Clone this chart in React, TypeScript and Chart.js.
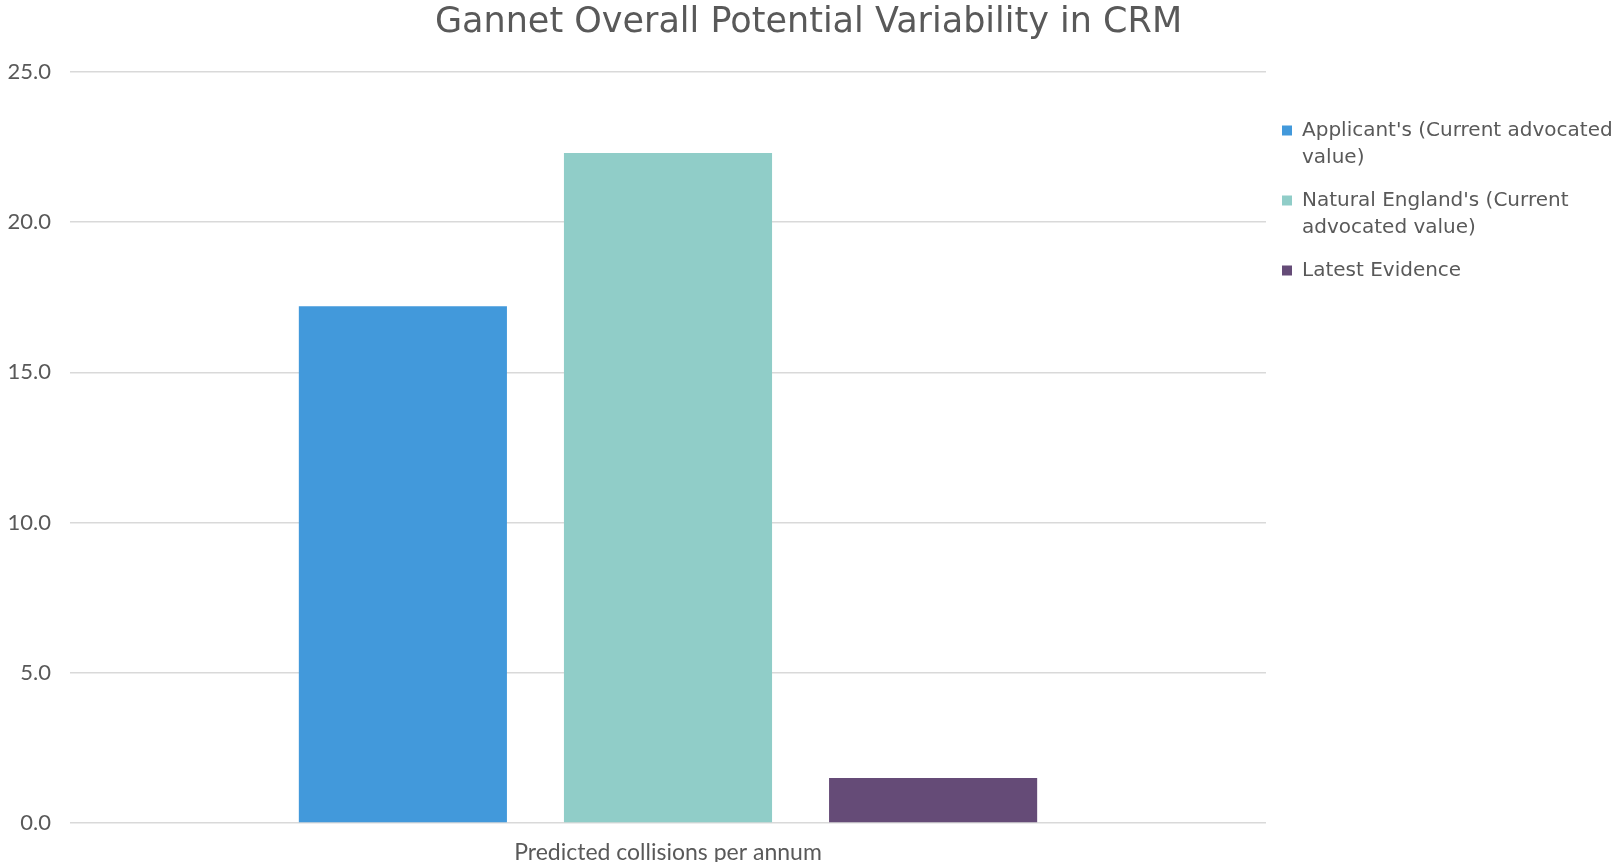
import React, { useEffect, useRef } from "react";
import { Chart, registerables } from "chart.js";

Chart.register(...registerables);

const categories = ["Predicted collisions per annum"];
const seriesNames = [
  "Applicant's (Current advocated value)",
  "Natural England's (Current advocated value)",
  "Latest Evidence",
];
const legendLines = [
  ["Applicant's (Current advocated", "value)"],
  ["Natural England's (Current", "advocated value)"],
  ["Latest Evidence"],
];
const applicantValues = [17.2];
const naturalEnglandValues = [22.3];
const latestEvidenceValues = [1.5];
const seriesColors = ["#4299DB", "#90CDC8", "#654B77"];
const titleText = "Gannet Overall Potential Variability in CRM";

const textColor = "#595959";
const tickFont = "Lato, 'Open Sans', sans-serif";
const wideFont = "'DejaVu Sans', sans-serif";

export default function App() {
  const canvasRef = useRef<HTMLCanvasElement | null>(null);

  useEffect(() => {
    const canvas = canvasRef.current;
    if (!canvas) return;
    const values = [applicantValues, naturalEnglandValues, latestEvidenceValues];
    const chart = new Chart(canvas, {
      type: "bar",
      data: {
        labels: categories,
        datasets: seriesNames.map((name, i) => ({
          label: name,
          data: values[i],
          backgroundColor: seriesColors[i],
          borderWidth: 0,
          categoryPercentage: 0.665,
          barPercentage: 0.785,
        })),
      },
      options: {
        animation: false,
        responsive: true,
        maintainAspectRatio: false,
        layout: { padding: { left: 0, right: 0, top: 0, bottom: 0 } },
        plugins: {
          title: {
            display: true,
            text: titleText,
            color: textColor,
            font: { family: wideFont, size: 35, weight: "normal", lineHeight: 1.2 },
            padding: { top: 2, bottom: 28 },
          },
          legend: {
            display: true,
            position: "right",
            align: "start",
            fullSize: false,
            maxWidth: 351,
            title: {
              display: true,
              text: " ",
              font: { size: 10, lineHeight: 1 },
              padding: { top: 22.5, bottom: 0 },
            },
            labels: {
              boxWidth: 10,
              boxHeight: 10,
              padding: 16,
              color: textColor,
              font: { family: wideFont, size: 20, lineHeight: 1.35 },
              generateLabels: (c: any) => {
                const base = Chart.defaults.plugins.legend.labels.generateLabels(c);
                return base.map((item: any, i: number) => ({
                  ...item,
                  text: legendLines[i],
                  lineWidth: 0,
                }));
              },
            },
          },
          tooltip: { enabled: false },
        },
        scales: {
          x: {
            grid: { display: false, drawTicks: false },
            border: { display: false },
            ticks: {
              color: textColor,
              padding: 16,
              font: { family: tickFont, size: 23, lineHeight: 1.2 },
            },
            afterFit: (scale: any) => {
              scale.height = 39;
            },
          },
          y: {
            min: 0,
            max: 25,
            grid: { color: "#d9d9d9", lineWidth: 1.5, drawTicks: false },
            border: { display: false },
            ticks: {
              stepSize: 5,
              color: textColor,
              padding: 19,
              font: { family: tickFont, size: 22 },
              callback: (v: any) => Number(v).toFixed(1),
            },
            afterFit: (scale: any) => {
              scale.width = 70;
            },
          },
        },
      },
    });
    return () => chart.destroy();
  }, []);

  return (
    <div
      style={{
        position: "fixed",
        left: 0,
        top: 0,
        width: 1617,
        height: 862,
        background: "#ffffff",
      }}
    >
      <canvas ref={canvasRef} />
    </div>
  );
}
